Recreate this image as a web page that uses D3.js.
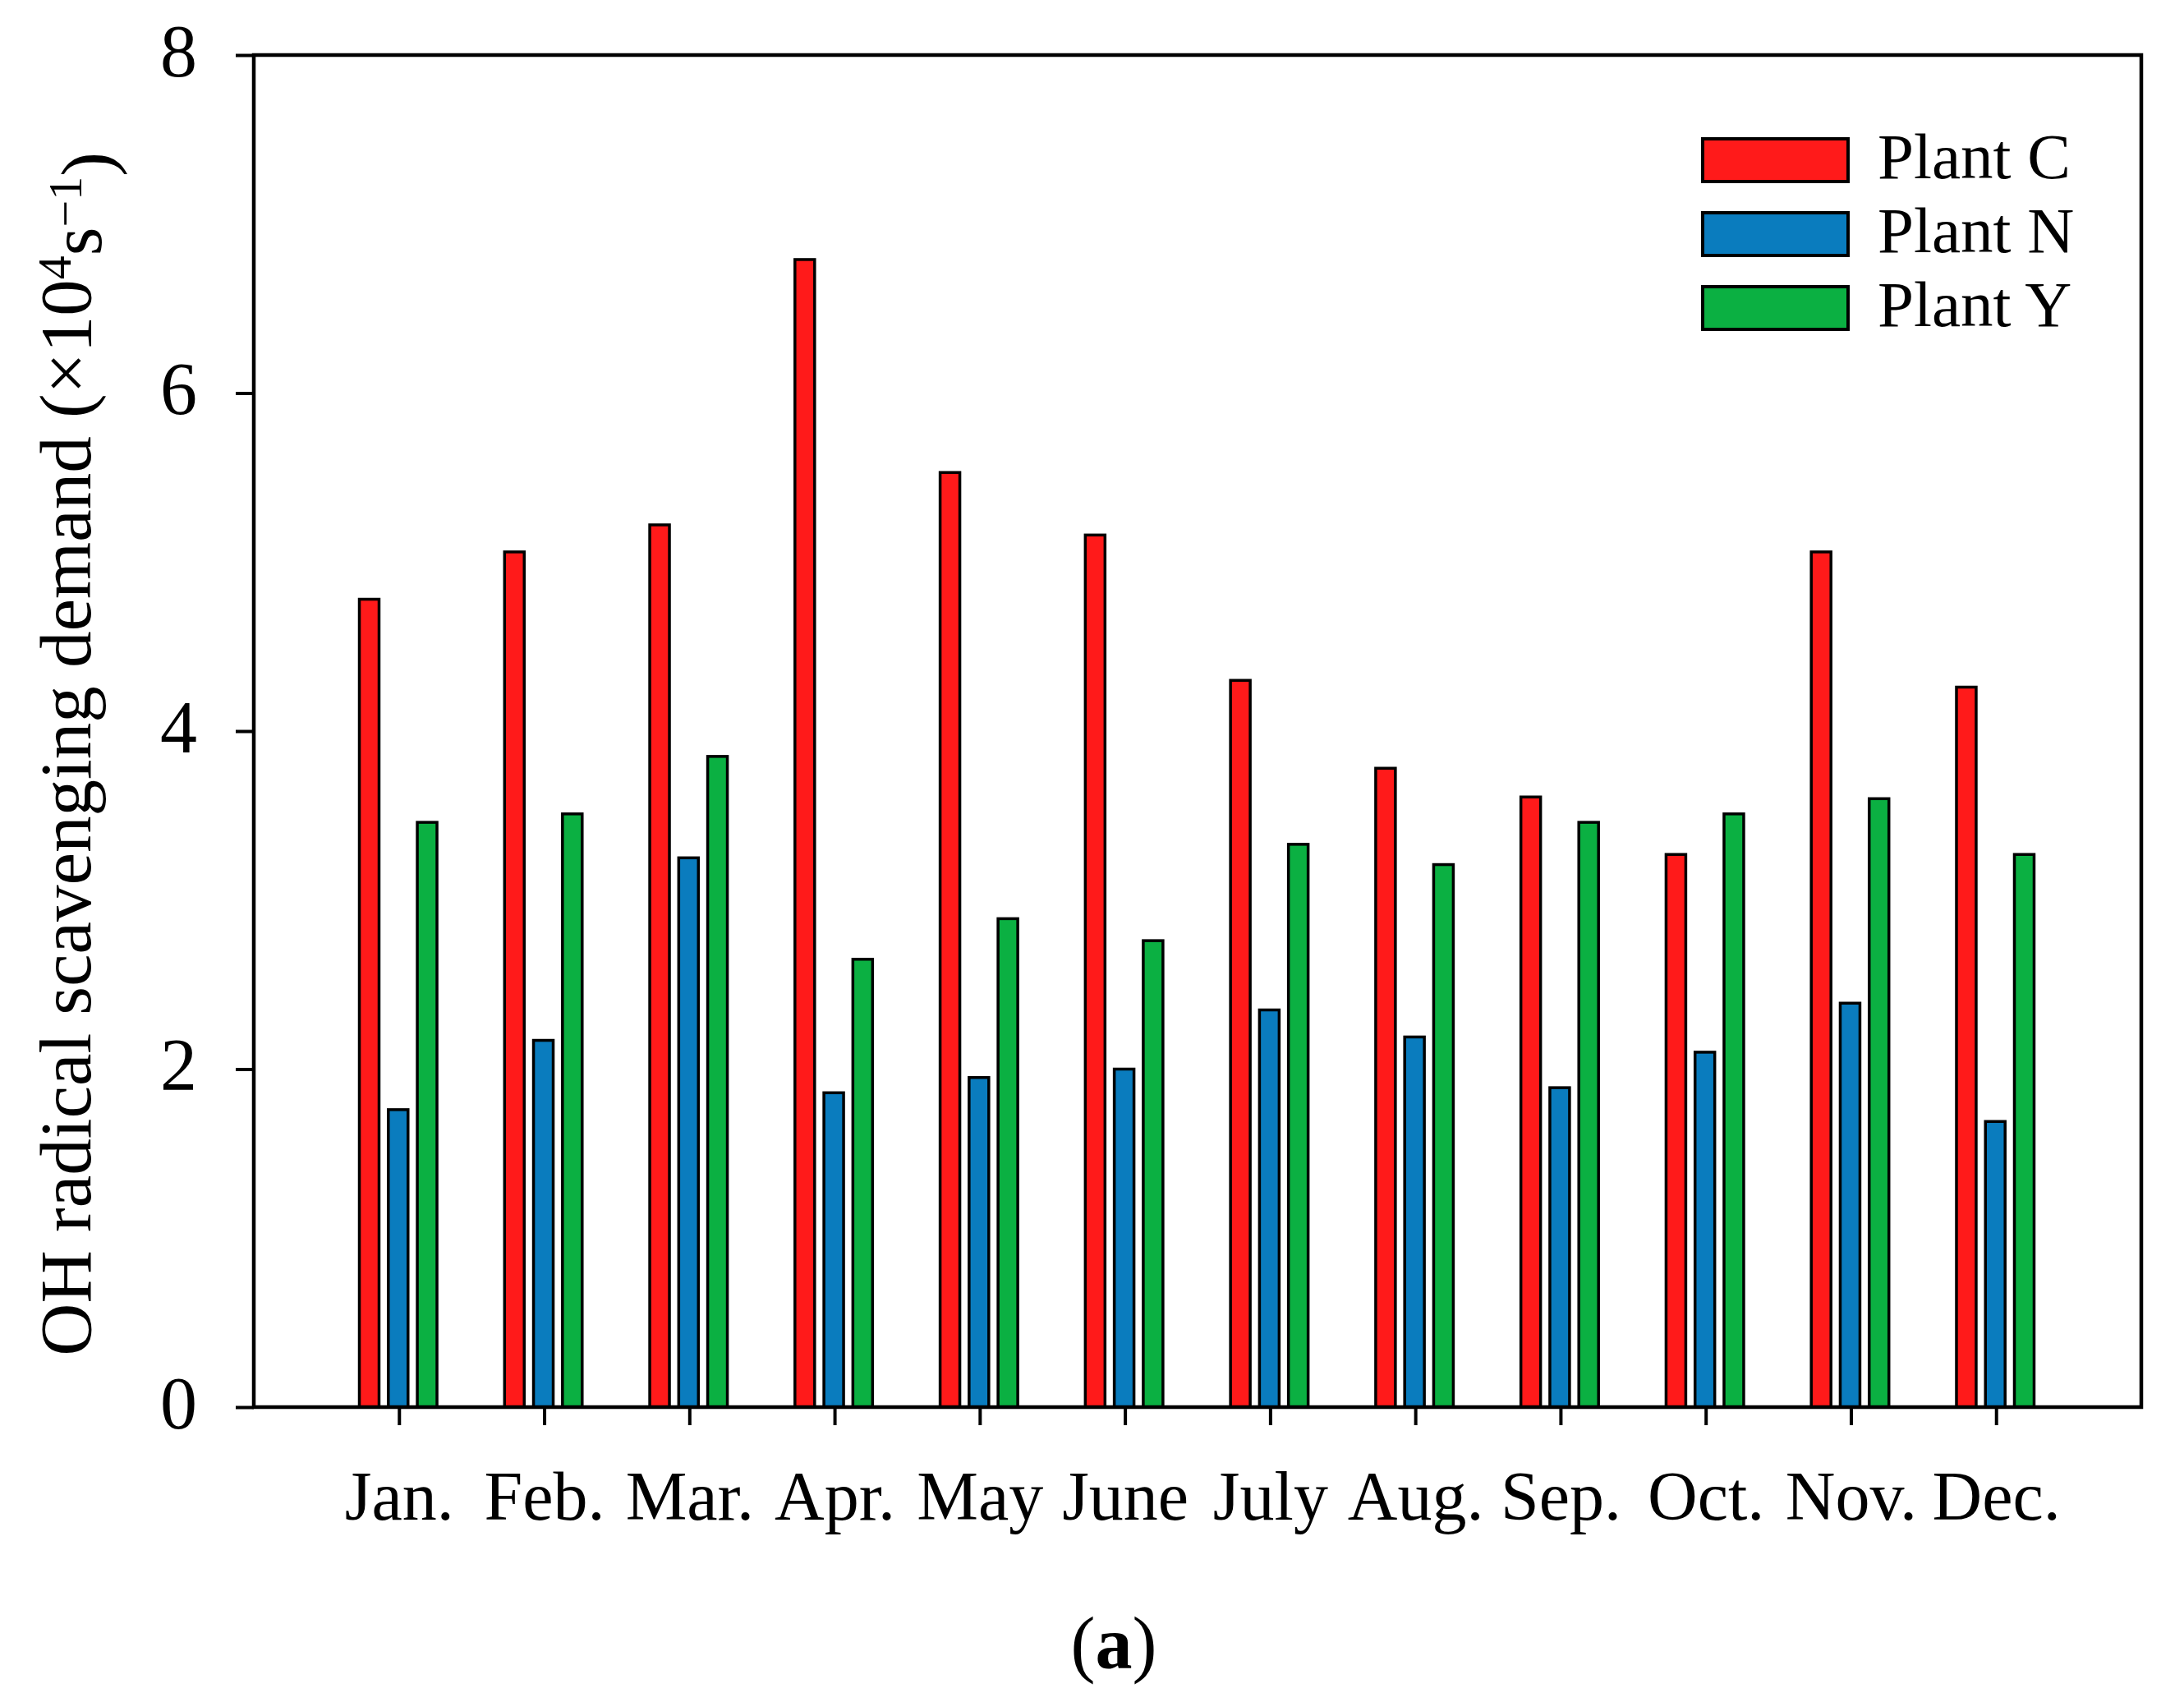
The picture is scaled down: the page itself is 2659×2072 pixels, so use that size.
<!DOCTYPE html>
<html>
<head>
<meta charset="utf-8">
<script src="https://cdn.jsdelivr.net/npm/d3@7"></script>
<style>
  html, body { margin: 0; padding: 0; background: #ffffff; }
  svg { display: block; }
  text { font-family: "Liberation Serif", "Times New Roman", "DejaVu Serif", serif; fill: #000; }
</style>
</head>
<body>
<svg id="chart" width="2659" height="2072"></svg>
<script>
// ---- data ----
const months = ["Jan.", "Feb.", "Mar.", "Apr.", "May", "June", "July", "Aug.", "Sep.", "Oct.", "Nov.", "Dec."];
const seriesNames = ["Plant C", "Plant N", "Plant Y"];
const plantC = [4.78, 5.06, 5.22, 6.79, 5.53, 5.16, 4.30, 3.78, 3.61, 3.27, 5.06, 4.26];
const plantN = [1.76, 2.17, 3.25, 1.86, 1.95, 2.00, 2.35, 2.19, 1.89, 2.10, 2.39, 1.69];
const plantY = [3.46, 3.51, 3.85, 2.65, 2.89, 2.76, 3.33, 3.21, 3.46, 3.51, 3.60, 3.27];
const yTicks = [0, 2, 4, 6, 8];
const colors = ["#ff1a1a", "#0a7cbe", "#0bb042"];

const seriesValues = [plantC, plantN, plantY];

// ---- layout ----
const plotLeft = 309, plotRight = 2607, plotTop = 67, plotBottom = 1713;
const svg = d3.select("#chart");

const x = d3.scaleLinear().domain([0, months.length + 1]).range([plotLeft, plotRight]);
const y = d3.scaleLinear().domain([0, 8]).range([plotBottom, plotTop]);
const inner = d3.scaleBand().domain(seriesNames).range([-53.9, 51.9]).paddingInner(0.32).paddingOuter(0.16);

// bars
const rows = [];
months.forEach((m, i) => {
  seriesNames.forEach((s, j) => rows.push({ month: i + 1, series: s, si: j, value: seriesValues[j][i] }));
});

svg.append("g").selectAll("rect").data(rows).join("rect")
  .attr("x", d => x(d.month) + inner(d.series))
  .attr("y", d => y(d.value))
  .attr("width", inner.bandwidth())
  .attr("height", d => y(0) - y(d.value))
  .attr("fill", d => colors[d.si])
  .attr("stroke", "#000")
  .attr("stroke-width", 3.5);

// frame
svg.append("rect")
  .attr("x", plotLeft).attr("y", plotTop)
  .attr("width", plotRight - plotLeft).attr("height", plotBottom - plotTop)
  .attr("fill", "none").attr("stroke", "#000").attr("stroke-width", 4.5);

// y axis
const yAxis = svg.append("g").attr("transform", `translate(${plotLeft},0)`)
  .call(d3.axisLeft(y).tickValues(yTicks).tickFormat(d3.format("d")).tickSize(22).tickSizeOuter(0).tickPadding(47));
yAxis.select(".domain").remove();
yAxis.selectAll(".tick line").attr("stroke", "#000").attr("stroke-width", 4);
yAxis.selectAll(".tick text").attr("font-size", 90).attr("dy", "0.28em")
  .style("font-family", '"Liberation Serif", "Times New Roman", serif');

// x axis
const xAxis = svg.append("g").attr("transform", `translate(0,${plotBottom})`)
  .call(d3.axisBottom(x).tickValues(d3.range(1, months.length + 1)).tickFormat(d => months[d - 1]).tickSize(22).tickSizeOuter(0));
xAxis.select(".domain").remove();
xAxis.selectAll(".tick line").attr("stroke", "#000").attr("stroke-width", 4);
xAxis.selectAll(".tick text").attr("font-size", 84).attr("y", 137).attr("dy", 0)
  .style("font-family", '"Liberation Serif", "Times New Roman", serif');

// legend
const legend = svg.append("g");
seriesNames.forEach((s, j) => {
  const ty = 169 + j * 90;
  legend.append("rect").attr("x", 2073).attr("y", ty).attr("width", 177).attr("height", 52)
    .attr("fill", colors[j]).attr("stroke", "#000").attr("stroke-width", 4);
  legend.append("text").attr("x", 2286).attr("y", ty + 48).attr("font-size", 79).text(s);
});

// y label
const yl = svg.append("text")
  .attr("transform", "translate(110,918) rotate(-90)")
  .attr("text-anchor", "middle")
  .attr("font-size", 89);
yl.append("tspan").text("OH radical scavenging demand (\u00d710");
yl.append("tspan").attr("dy", "-0.42em").attr("font-size", 58).text("4");
yl.append("tspan").attr("dy", "0.42em").text("s");
yl.append("tspan").attr("dy", "-0.42em").attr("font-size", 58).text("\u22121");
yl.append("tspan").attr("dy", "0.42em").text(")");

// caption
const cap = svg.append("text").attr("x", 1356).attr("y", 2031).attr("text-anchor", "middle").attr("font-size", 90);
cap.append("tspan").text("(");
cap.append("tspan").attr("font-weight", "bold").text("a");
cap.append("tspan").text(")");
</script>
</body>
</html>
